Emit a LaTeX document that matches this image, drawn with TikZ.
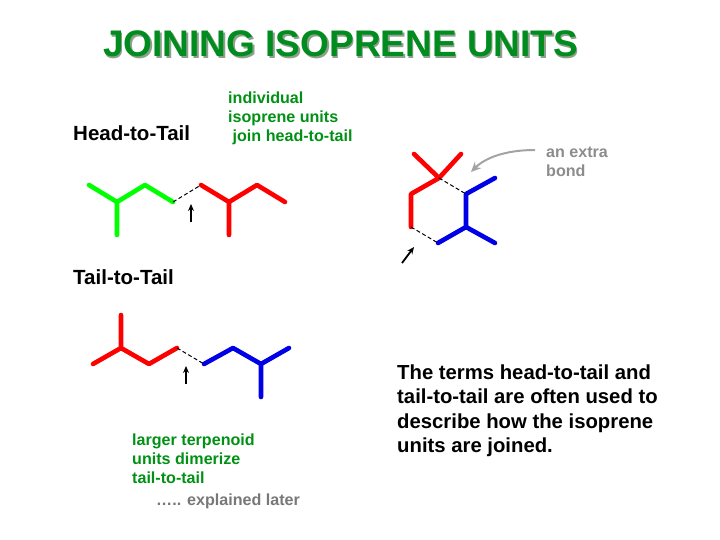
\documentclass[tikz,border=0pt]{standalone}
\usepackage{fontspec}
\setmainfont{Liberation Sans}
\usetikzlibrary{arrows.meta}
\definecolor{ctitle}{RGB}{0,140,30}
\definecolor{cnote}{RGB}{0,145,20}
\definecolor{cgrey}{RGB}{140,140,140}
\definecolor{clater}{RGB}{120,120,120}
\definecolor{cshade}{RGB}{140,160,140}
\definecolor{cgreen}{RGB}{0,255,0}
\definecolor{cred}{RGB}{255,0,0}
\definecolor{cblue}{RGB}{0,0,230}
\tikzset{
  ttl/.style={anchor=base west, inner sep=0pt, font=\bfseries\fontsize{37}{37}\selectfont},
  hdg/.style={anchor=base west, inner sep=0pt, font=\bfseries\fontsize{20.5}{20.5}\selectfont},
  nte/.style={anchor=base west, inner sep=0pt, align=left, text=cnote, font=\bfseries\fontsize{16.1}{19}\selectfont},
  gnt/.style={anchor=base west, inner sep=0pt, align=left, text=cgrey, font=\bfseries\fontsize{16.1}{19.5}\selectfont},
  bdy/.style={anchor=base west, inner sep=0pt, align=left, font=\bfseries\fontsize{20.3}{24.3}\selectfont},
  bnd/.style={line width=4.6pt, line cap=round, line join=round},
  jnt/.style={dash pattern=on 4pt off 2.5pt, line width=1pt},
  arw/.style={-{Stealth[length=7pt,width=6pt]}, line width=1.8pt},
}
\begin{document}
\begin{tikzpicture}[x=1pt,y=-1pt]
\useasboundingbox (0,0) rectangle (720,540);
%---- title
\node[ttl, text=cshade] (shade) at (104.5,58.5) {JOINING ISOPRENE UNITS};
\node[ttl, text=ctitle] (title) at (103,57) {JOINING ISOPRENE UNITS};
%---- head to tail
\node[hdg] (ht) at (73,141) {Head-to-Tail};
\node[nte] (htnote) at (228,142) {individual\\isoprene units\\\ join head-to-tail};
\coordinate (g1) at (89,185); \coordinate (g2) at (117,202); \coordinate (g3) at (117,235);
\coordinate (g4) at (145,185); \coordinate (g5) at (173,202);
\coordinate (r1) at (201,185); \coordinate (r2) at (229,202); \coordinate (r3) at (229,235);
\coordinate (r4) at (257,185); \coordinate (r5) at (285,202);
\draw[bnd, cgreen] (g1) -- (g2) -- (g4) -- (g5) (g2) -- (g3);
\draw[bnd, cred] (r1) -- (r2) -- (r4) -- (r5) (r2) -- (r3);
\draw[jnt] (g5) -- (r1);
\coordinate (a1) at (191,222); \coordinate (a2) at (191,204);
\draw[arw] (a1) -- (a2);
%---- tail to tail
\node[hdg] (tt) at (73,284) {Tail-to-Tail};
\coordinate (s1) at (93,364); \coordinate (s2) at (121,348); \coordinate (s3) at (121,315);
\coordinate (s4) at (149,364); \coordinate (s5) at (177,348);
\coordinate (b1) at (204,364); \coordinate (b2) at (233,348); \coordinate (b3) at (261,364);
\coordinate (b4) at (261,397); \coordinate (b5) at (289,348);
\draw[bnd, cred] (s1) -- (s2) -- (s4) -- (s5) (s2) -- (s3);
\draw[bnd, cblue] (b1) -- (b2) -- (b3) -- (b5) (b3) -- (b4);
\draw[jnt] (s5) -- (b1);
\coordinate (a3) at (186,384); \coordinate (a4) at (186,366);
\draw[arw] (a3) -- (a4);
\node[nte] (ttnote) at (132,483) {larger terpenoid\\units dimerize\\tail-to-tail};
\node[gnt, text=clater] (later) at (156,505) {….. explained later};
%---- ring
\coordinate (c1) at (414,154); \coordinate (c2) at (439,178); \coordinate (c3) at (461,154);
\coordinate (c4) at (411,194); \coordinate (c5) at (411,227);
\coordinate (d1) at (495,178); \coordinate (d2) at (466,194); \coordinate (d3) at (466,227);
\coordinate (d4) at (495,243); \coordinate (d5) at (438,243);
\draw[bnd, cred] (c1) -- (c2) (c3) -- (c2) -- (c4) -- (c5);
\draw[bnd, cblue] (d1) -- (d2) -- (d3) -- (d4) (d3) -- (d5);
\draw[jnt] (c2) -- (d2);
\draw[jnt] (c5) -- (d5);
\coordinate (a5) at (402,263); \coordinate (a6) at (414,247);
\draw[arw] (a5) -- (a6);
\node[gnt] (extra) at (546,177) {an extra\\bond};
\coordinate (a7) at (535,150); \coordinate (a8) at (471,172);
\draw[-{Stealth[length=10pt,width=9pt]}, cgrey!80, line width=2pt] (a7) .. controls (505,150) and (485,158) .. (a8);
%---- text
\node[bdy] (terms) at (397,452.5) {The terms head-to-tail and\\tail-to-tail are often used to\\describe how the isoprene\\units are joined.};
\end{tikzpicture}
\end{document}
